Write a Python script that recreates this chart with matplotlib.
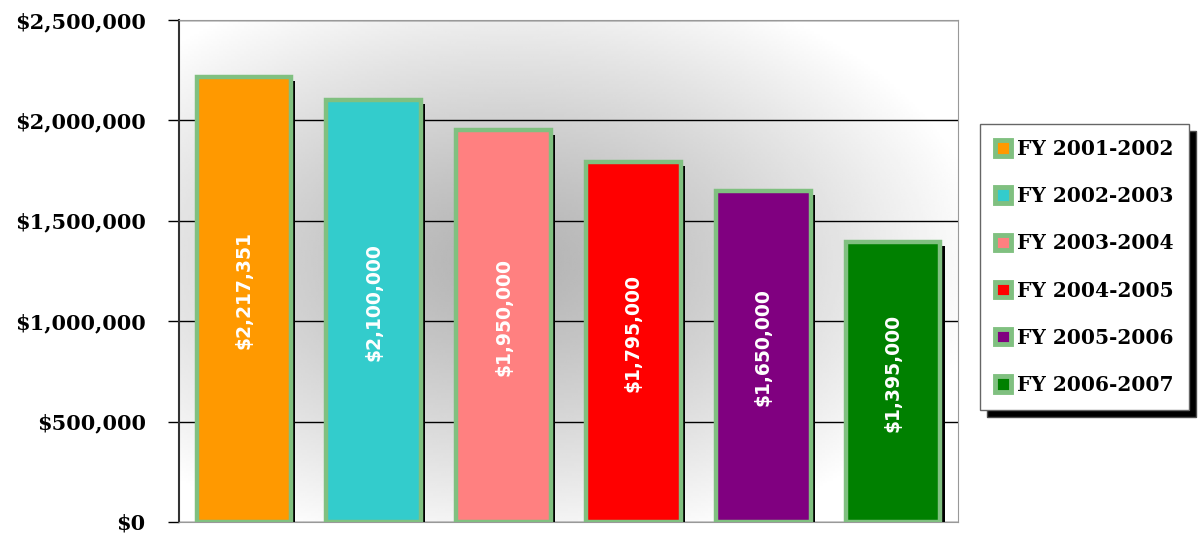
import numpy as np
import matplotlib.pyplot as plt
import matplotlib.patheffects as pe
from matplotlib.patches import Patch
from matplotlib.ticker import FuncFormatter

years = ["FY 2001-2002", "FY 2002-2003", "FY 2003-2004",
         "FY 2004-2005", "FY 2005-2006", "FY 2006-2007"]
amounts = [2217351, 2100000, 1950000, 1795000, 1650000, 1395000]
colors = ["#FF9900", "#33CCCC", "#FF8080", "#FF0000", "#800080", "#008000"]
edge = "#80C080"

fig = plt.figure(figsize=(11.99, 5.36), dpi=100)
ax = fig.add_axes([179/1199, 14/536, 779/1199, 502/536])

# radial gray background
gx, gy = np.meshgrid(np.linspace(0, 1, 400), np.linspace(0, 1, 200))
r = np.sqrt(((gx - 0.42) / 0.62) ** 2 + ((gy - 0.48) / 0.6) ** 2)
shade = 0.70 + 0.30 * np.clip(r, 0, 1) ** 1.2
ax.imshow(shade, cmap="gray", vmin=0, vmax=1, extent=[0, 1, 0, 1],
          transform=ax.transAxes, aspect="auto", zorder=0, interpolation="bilinear")

x = np.arange(len(years))
bars = ax.bar(x, amounts, width=0.73, color=colors, edgecolor=edge,
              linewidth=3.2, zorder=3)
for b in bars:
    b.set_path_effects([pe.SimplePatchShadow(offset=(3, -3), shadow_rgbFace="black",
                                             alpha=1.0), pe.Normal()])

for xi, v in zip(x, amounts):
    ax.text(xi, v / 2 + 45000, f"${v:,.0f}", rotation=90, ha="center", va="center",
            color="white", fontsize=13.5, fontweight="bold", family="DejaVu Sans", zorder=5)

ax.set_xlim(-0.5, len(years) - 0.5)
ax.set_ylim(0, 2500000)
ax.set_yticks(np.arange(0, 2500001, 500000))
ax.yaxis.set_major_formatter(FuncFormatter(lambda v, p: f"${v:,.0f}"))
ax.set_xticks([])
ax.tick_params(axis="y", length=8, width=1, direction="out", pad=16)
for lab in ax.get_yticklabels():
    lab.set_fontfamily("DejaVu Serif")
    lab.set_fontweight("bold")
    lab.set_fontsize(15)
ax.grid(axis="y", color="black", linewidth=1, zorder=1)
ax.set_axisbelow(True)
for s in ["top", "right", "bottom"]:
    ax.spines[s].set_color("#999999")
ax.spines["left"].set_color("#333333")
ax.spines["left"].set_linewidth(1.5)

handles = [Patch(facecolor=c, edgecolor=edge, linewidth=3.5) for c in colors]
leg = fig.legend(handles, years, loc="center left", bbox_to_anchor=(980/1199, 0.502),
                 prop={"family": "DejaVu Serif", "weight": "bold", "size": 14.5},
                 handlelength=0.8, handleheight=0.8, handletextpad=0.3,
                 labelspacing=1.35, borderpad=0.75, borderaxespad=0, fancybox=False,
                 edgecolor="#666666", framealpha=1,
                 shadow={"ox": 5, "oy": -5, "facecolor": "black", "alpha": 1})

fig.savefig("out.png", dpi=100)
